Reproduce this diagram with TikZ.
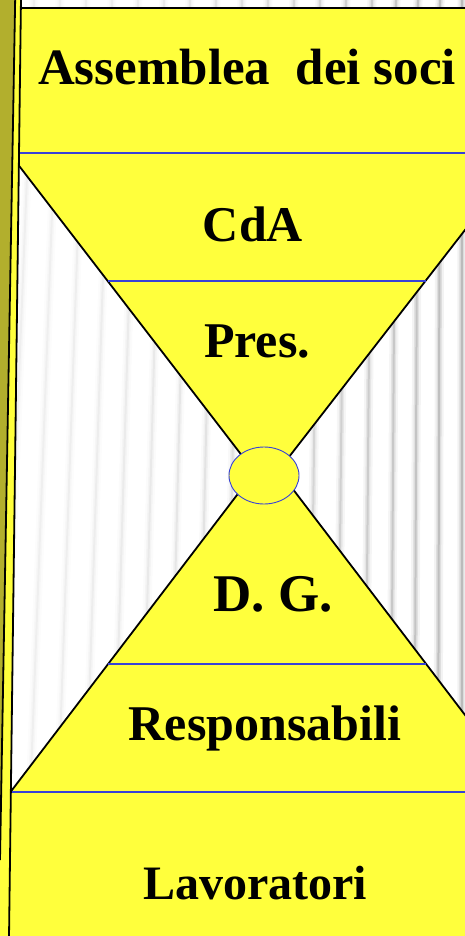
\documentclass[tikz,border=0pt]{standalone}
\usepackage{fontspec}
\setmainfont{Liberation Serif}
\definecolor{ylw}{RGB}{255,255,60}
\definecolor{olv}{RGB}{178,175,45}
\definecolor{blu}{RGB}{55,65,215}
\tikzset{
  bluline/.style={draw=blu, line width=1.4pt},
  blkline/.style={draw=black, line width=1.8pt},
  yfill/.style={fill=ylw, draw=none},
  lbl/.style={font=\fontsize{50}{50}\selectfont\bfseries, anchor=base, inner sep=0pt},
}
\begin{document}
\begin{tikzpicture}[x=1pt,y=-1pt]
\useasboundingbox (0,0) rectangle (465,936);
\clip (0,0) rectangle (465,936);
% background
\fill[white] (0,0) rectangle (465,936);
% soft stripes
\foreach \sx in {34,60,86,112,138,164,190,216,242,268,294,320,346,372,396,418,440,462}{
  \pgfmathsetmacro{\tilt}{34*(1-\sx/465)}
  \pgfmathsetmacro{\op}{0.3+1.2*(\sx/465)^2}
  \draw[line width=9pt, black, opacity=0.035*\op] (\sx,0) -- (\sx-\tilt,792);
  \draw[line width=5pt, black, opacity=0.06*\op] (\sx,0) -- (\sx-\tilt,792);
  \draw[line width=2pt, black, opacity=0.10*\op] (\sx,0) -- (\sx-\tilt,792);
}
% key points
\coordinate (ul) at (9.2,153);
\coordinate (ur) at (524.7,153);
\coordinate (ua) at (265.9,486.7);
\coordinate (ll) at (10.5,792);
\coordinate (lr) at (523.7,792);
\coordinate (la) at (267.2,455.4);
% yellow areas
\fill[ylw] (0,8) rectangle (470,153.5);
\fill[ylw] (0,791.5) rectangle (470,936);
\fill[ylw] (ul) -- (ur) -- (ua) -- cycle;
\fill[ylw] (ll) -- (lr) -- (la) -- cycle;
% black diagonals
\draw[blkline] (ul) -- (ua) -- (ur);
\draw[blkline] (ll) -- (la) -- (lr);
% top black line
\draw[blkline] (0,8) -- (470,8);
% blue separators
\draw[bluline] (0,153) -- (470,153);
\draw[bluline] (108.4,281) -- (426.2,281);
\draw[bluline] (108.2,664) -- (426.1,664);
\draw[bluline] (0,792) -- (470,792);
% central ellipse
\draw[fill=ylw, draw=blu, line width=0.9pt] (264,475.5) ellipse [x radius=35pt, y radius=28.5pt];
% left strip
\fill[olv] (-2,-2) -- (15.2,-2) -- (0,860) -- (-2,860) -- cycle;
\fill[ylw] (15.2,-2) -- (21,-2) -- (9,936) -- (-2,936) -- (-2,860) -- (0,860) -- cycle;
\draw[blkline] (15.2,-2) -- (0,860);
\draw[blkline] (21,-2) -- (9,938);
% labels
\node[lbl, font=\fontsize{51}{51}\selectfont\bfseries] (asm) at (247,85) {Assemblea\ \ dei soci};
\node[lbl] (cda) at (253,241) {CdA};
\node[lbl] (pres) at (257,357) {Pres.};
\node[lbl, font=\fontsize{53}{53}\selectfont\bfseries] (dg) at (273,611) {D. G.};
\node[lbl] (resp) at (265,740) {Responsabili};
\node[lbl, font=\fontsize{48}{48}\selectfont\bfseries] (lav) at (255,899) {Lavoratori};
\end{tikzpicture}
\end{document}
